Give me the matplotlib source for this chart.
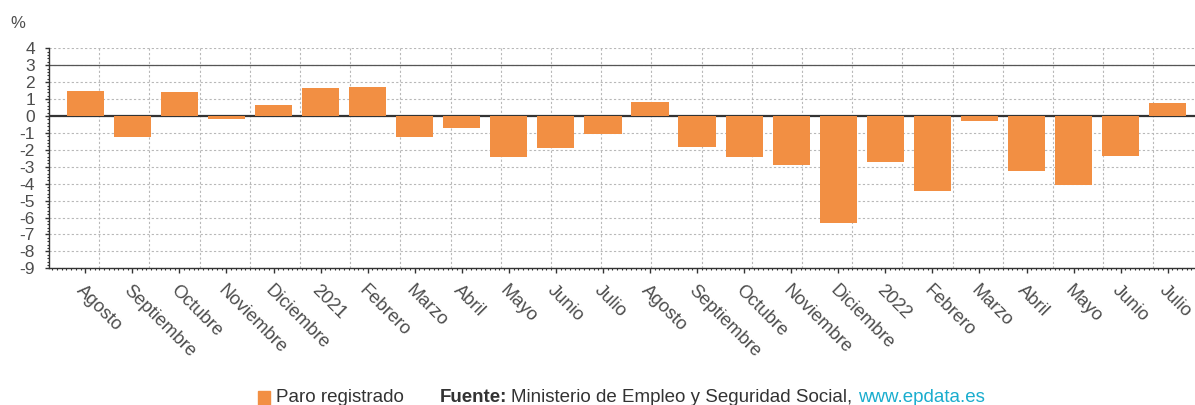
import matplotlib
matplotlib.use("Agg")
import matplotlib.pyplot as plt
import numpy as np
from matplotlib.patches import Rectangle
from matplotlib.ticker import MultipleLocator

plt.rcParams['font.family'] = ['Liberation Sans', 'DejaVu Sans']

categories = ["Agosto", "Septiembre", "Octubre", "Noviembre", "Diciembre", "2021",
              "Febrero", "Marzo", "Abril", "Mayo", "Junio", "Julio", "Agosto",
              "Septiembre", "Octubre", "Noviembre", "Diciembre", "2022", "Febrero",
              "Marzo", "Abril", "Mayo", "Junio", "Julio"]
paro_registrado = [1.48, -1.24, 1.42, -0.15, 0.65, 1.65, 1.70, -1.24, -0.69, -2.43,
                   -1.91, -1.08, 0.85, -1.81, -2.42, -2.87, -6.30, -2.69, -4.44,
                   -0.28, -3.25, -4.06, -2.39, 0.79]
y_ticks = list(range(-9, 5))

BAR = "#f28f43"
DARK = "#333333"
TXT = "#4d4d4d"

W, H = 1195, 405
fig = plt.figure(figsize=(W / 100, H / 100), dpi=100)
left_px, right_px, top_px, bot_px = 49, 1195, 48.3, 268.3
ax = fig.add_axes([left_px / W, 1 - bot_px / H, (right_px - left_px) / W, (bot_px - top_px) / H])

x = np.arange(len(categories))
ax.bar(x, paro_registrado, width=0.79, color=BAR, zorder=3)

ax.set_xlim(-0.771, 23.58)
ax.set_ylim(-9, 4)

# grid
ax.set_yticks(y_ticks)
ax.set_yticklabels([str(v) for v in y_ticks])
ax.yaxis.grid(True, color="#b8b8b8", linestyle=(0, (2, 2)), linewidth=0.8, zorder=0)
xl = ax.get_xlim()
gsp = 1.0667
for gx in np.arange(xl[0] + gsp, xl[1], gsp):
    ax.axvline(gx, color="#b8b8b8", linestyle=(0, (2, 2)), linewidth=0.8, zorder=0)

ax.axhline(0, color=DARK, linewidth=1.6, zorder=2)
ax.axhline(3, color="#555555", linewidth=0.9, zorder=2)

for s in ["top", "right"]:
    ax.spines[s].set_visible(False)
for s in ["left", "bottom"]:
    ax.spines[s].set_color(DARK)
    ax.spines[s].set_linewidth(1.0)

ax.set_xticks(x)
ax.set_xticklabels(categories, rotation=-45, ha="left", va="top",
                   rotation_mode="anchor", fontsize=13.2, color=TXT)
ax.tick_params(axis="x", which="major", length=3.5, width=1, color=DARK, pad=6)
ax.xaxis.set_minor_locator(MultipleLocator(0.1))
ax.tick_params(axis="x", which="minor", length=1.5, width=0.8, color=DARK)
ax.tick_params(axis="y", which="major", length=3, width=1, color=DARK, pad=7,
               labelsize=12.5, labelcolor=TXT)
ax.yaxis.set_minor_locator(MultipleLocator(0.2))
ax.tick_params(axis="y", which="minor", length=1.5, width=0.8, color=DARK)

fig.text(10 / W, 1 - 23 / H, "%", fontsize=12, color=TXT, va="center", ha="left")

# legend / source
fig.patches.append(Rectangle((258 / W, 1 - 405 / H), 12 / W, 14 / H,
                             transform=fig.transFigure, color=BAR, figure=fig))
ly = 1 - 398 / H
FS = 13.5
fig.text(276 / W, ly, "Paro registrado", fontsize=FS, color="#333333", va="center")
t1 = fig.text(440 / W, ly, "Fuente:", fontsize=FS, color="#333333", va="center",
              fontweight="bold")
fig.canvas.draw()
r = fig.canvas.get_renderer()
bb = t1.get_window_extent(r)
t2 = fig.text((bb.x1 + 4) / W, ly, "Ministerio de Empleo y Seguridad Social,",
              fontsize=FS, color="#333333", va="center")
bb2 = t2.get_window_extent(r)
fig.text((bb2.x1 + 6) / W, ly, "www.epdata.es", fontsize=FS, color="#1aadce", va="center")

fig.savefig("out.png", dpi=100)
